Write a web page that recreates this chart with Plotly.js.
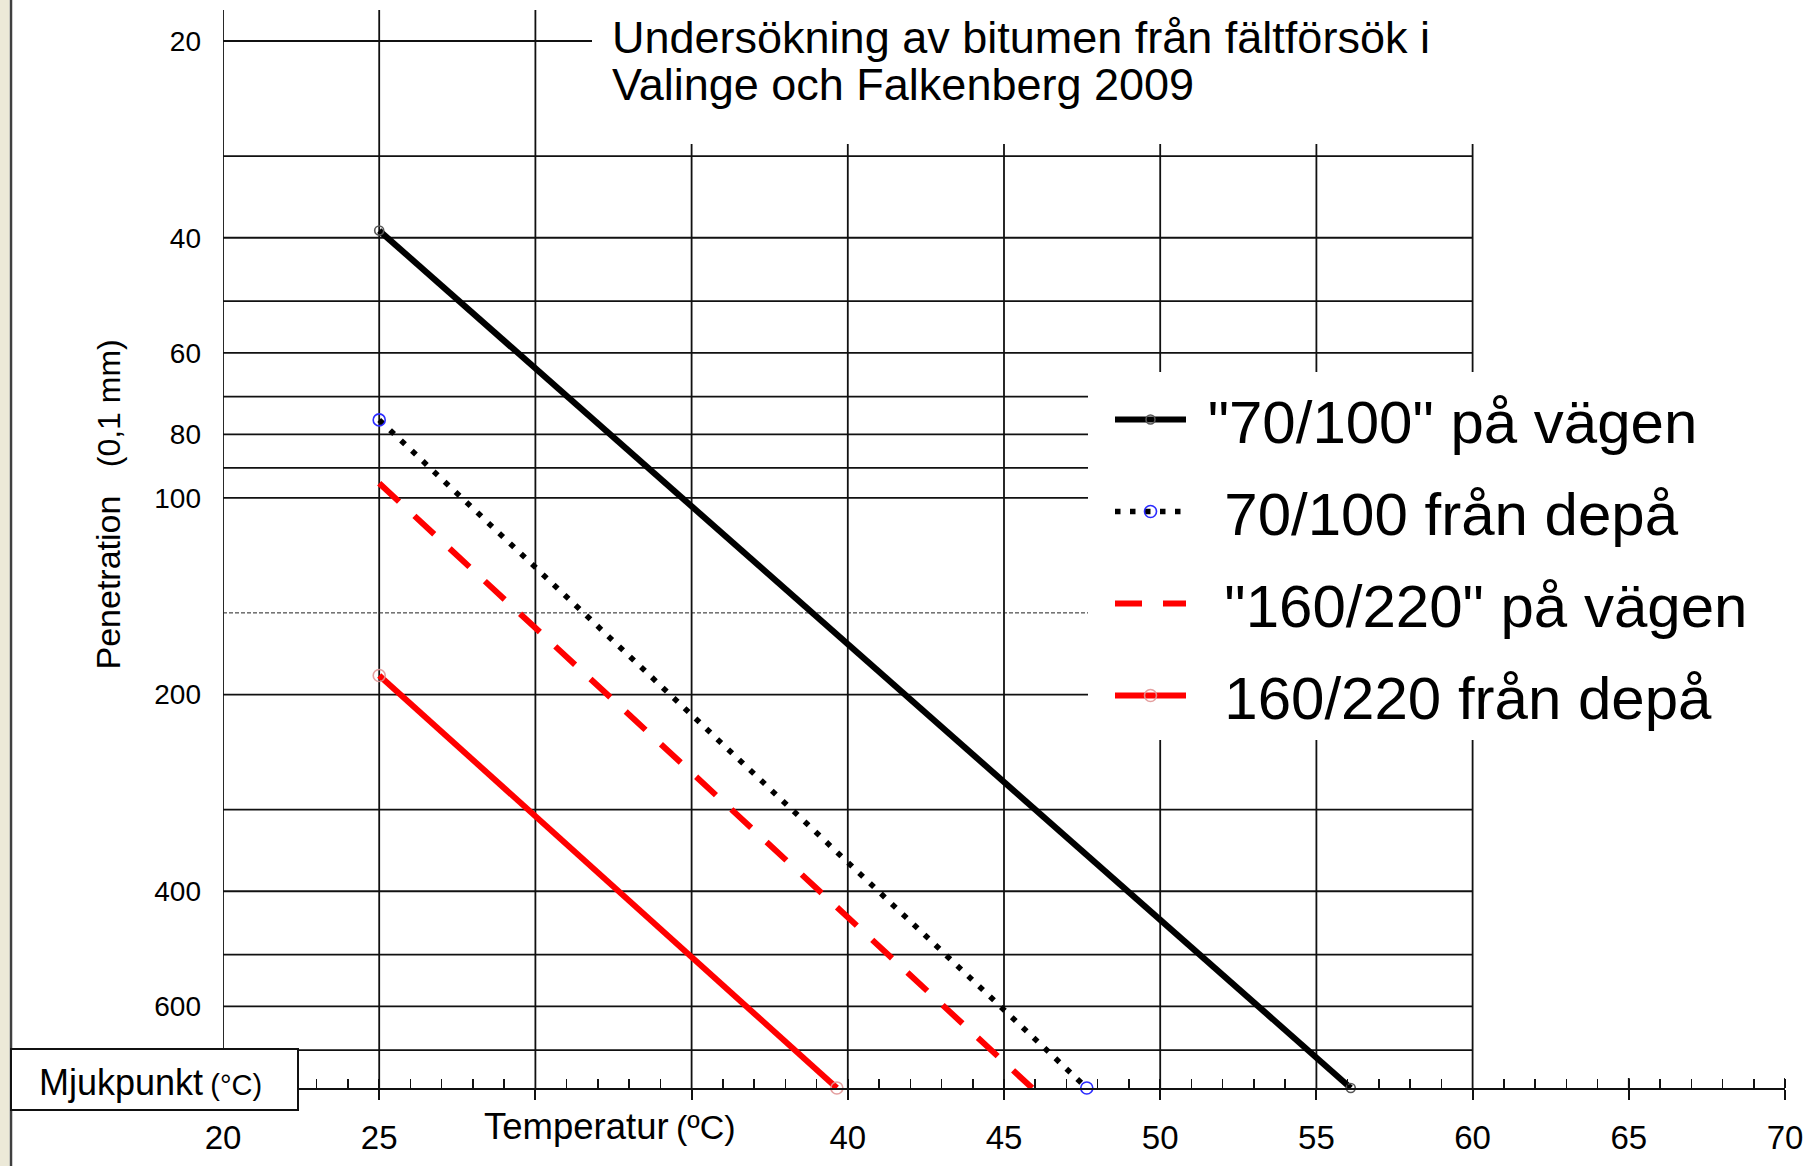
<!DOCTYPE html>
<html>
<head>
<meta charset="utf-8">
<script src="https://cdn.plot.ly/plotly-3.0.1.min.js"></script>
<style>
  html, body { margin: 0; padding: 0; background: #ffffff; }
  #chart { width: 1814px; height: 1166px; }
</style>
</head>
<body>
<div id="chart"></div>
<script>
// ---------------- data ----------------
const seriesNames = [
  '\u00a0"70/100" på vägen',
  '\u00a0\u00a070/100 från depå',
  '\u00a0\u00a0"160/220" på vägen',
  '\u00a0\u00a0160/220 från depå'
];
const testTemperature = [25, 25, 25, 25];          // °C
const penetrationAt25 = [39, 76, 95, 187];         // 0,1 mm
const softeningPoint  = [56.1, 47.65, 45.9, 39.65]; // °C (Mjukpunkt)
const penetrationAtSP = [800, 800, 800, 800];      // 0,1 mm
const yTickVals = [20, 40, 60, 80, 100, 200, 400, 600];
const xTickVals = [20, 25, 30, 35, 40, 45, 50, 55, 60, 65, 70];
const xTickText = ['20', '25', '', '', '40', '45', '50', '55', '60', '65', '70'];

// ---------------- layout geometry helpers ----------------
const FIG_W = 1814, FIG_H = 1166;
const M_L = 223, M_T = 10, PLOT_W = 1562, PLOT_H = 1078;
const M_R = FIG_W - M_L - PLOT_W, M_B = FIG_H - M_T - PLOT_H;
const px = v => (v - M_L) / PLOT_W;          // pixel x -> paper x
const py = v => (M_T + PLOT_H - v) / PLOT_H; // pixel y -> paper y
const FONT = '"Liberation Sans", Arial, sans-serif';

// ---------------- traces ----------------
const styles = [
  { mode: 'lines+markers', line: { color: '#000000', width: 6.2, dash: 'solid' },
    marker: { symbol: 'circle-open', size: 9, color: '#555555', line: { width: 1.6 } } },
  { mode: 'lines+markers', line: { color: '#000000', width: 5.5, dash: '5.5px,9.5px' },
    marker: { symbol: 'circle-open', size: 12, color: '#2a2aff', line: { width: 1.6 } } },
  { mode: 'lines', line: { color: '#ff0000', width: 6, dash: '27px,21px' } },
  { mode: 'lines+markers', line: { color: '#ff0000', width: 6, dash: 'solid' },
    marker: { symbol: 'circle-open', size: 12, color: 'rgba(225,150,150,0.9)', line: { width: 1.6 } } }
];

const traces = seriesNames.map((name, i) => Object.assign({
  type: 'scatter',
  name: name,
  x: [testTemperature[i], softeningPoint[i]],
  y: [penetrationAt25[i], penetrationAtSP[i]],
  legendgroup: 'g' + i,
  cliponaxis: false,
  hoverinfo: 'x+y+name'
}, styles[i]));

// ---------------- grid (chart furniture) ----------------
const GRID = '#111111';
const shapes = [];
function hline(pen, xFrom, xTo, extra) {
  shapes.push(Object.assign({ type: 'line', xref: 'x', yref: 'y', x0: xFrom, x1: xTo, y0: pen, y1: pen,
    line: { color: GRID, width: 1.8 }, layer: 'below' }, extra || {}));
}
function vline(t, yFrom, yTo) {
  shapes.push({ type: 'line', xref: 'x', yref: 'paper', x0: t, x1: t, y0: yFrom, y1: yTo,
    line: { color: GRID, width: 1.8 }, layer: 'below' });
}
const xLegendEdge = 20 + (1088 - M_L) / (PLOT_W / 50);
const xTitleEnd = 20 + (592 - M_L) / (PLOT_W / 50);
hline(20, 20, xTitleEnd);
[30, 40, 50, 60, 300, 400, 500, 600].forEach(p => hline(p, 20, 60));
[70, 80, 90, 100, 200].forEach(p => hline(p, 20, xLegendEdge));
hline(150, 20, xLegendEdge, { line: { color: '#222222', width: 1, dash: '4px,2px' } });
// 700 line extends across the label area to the frame
shapes.push({ type: 'line', xref: 'paper', yref: 'y', x0: px(11), x1: 0.8, y0: 700, y1: 700,
  line: { color: GRID, width: 1.8 }, layer: 'below' });

vline(20, py(1049), 1);
vline(25, 0, 1);
vline(30, 0, 1);
[35, 40, 45].forEach(t => vline(t, 0, py(144)));
[50, 55, 60].forEach(t => { vline(t, py(372), py(144)); vline(t, 0, py(740)); });
[65, 70].forEach(t => vline(t, 0, 10 / PLOT_H));

// left window frame
shapes.push({ type: 'rect', xref: 'paper', yref: 'paper', x0: px(0), x1: px(9.5), y0: py(FIG_H), y1: py(0),
  fillcolor: '#ece9d8', line: { width: 0 }, layer: 'above' });
shapes.push({ type: 'line', xref: 'paper', yref: 'paper', x0: px(11), x1: px(11), y0: py(FIG_H), y1: py(0),
  line: { color: '#404040', width: 2.5 }, layer: 'above' });
// Mjukpunkt box
shapes.push({ type: 'rect', xref: 'paper', yref: 'paper', x0: px(11), x1: px(298), y0: py(1110), y1: py(1049),
  fillcolor: '#ffffff', line: { color: '#111111', width: 2 }, layer: 'above' });

// ---------------- annotations ----------------
const annotations = [
  { text: 'Undersökning av bitumen från fältförsök i', x: px(610), y: py(10), xanchor: 'left', yanchor: 'top',
    font: { size: 45 } },
  { text: 'Valinge och Falkenberg 2009', x: px(610), y: py(57.5), xanchor: 'left', yanchor: 'top',
    font: { size: 45 } },
  { text: 'Mjukpunkt\u2009<span style="font-size:29px">(°C)</span>', x: px(37), y: py(1060), xanchor: 'left', yanchor: 'top',
    font: { size: 36 } },
  { text: 'Temperatur\u2009<span style="font-size:34px">(ºC)</span>', x: px(482), y: py(1104), xanchor: 'left', yanchor: 'top',
    font: { size: 36.5 } },
  { text: 'Penetration\u00a0\u00a0\u00a0<span style="font-size:32px">(0,1 mm)</span>', x: px(107.5), y: py(505),
    xanchor: 'center', yanchor: 'middle', textangle: -90, font: { size: 34 } }
].map(a => Object.assign({ xref: 'paper', yref: 'paper', showarrow: false }, a,
  { font: Object.assign({ family: FONT, color: '#000000' }, a.font) }));

// ---------------- layout ----------------
const layout = {
  width: FIG_W, height: FIG_H,
  margin: { l: M_L, r: M_R, t: M_T, b: M_B, pad: 0 },
  paper_bgcolor: '#ffffff',
  plot_bgcolor: 'rgba(0,0,0,0)',
  font: { family: FONT, color: '#000000' },
  showlegend: true,
  legend: {
    x: px(1110), y: py(374), xanchor: 'left', yanchor: 'top',
    bgcolor: 'rgba(0,0,0,0)', borderwidth: 0,
    font: { family: FONT, size: 60, color: '#000000' },
    itemwidth: 71, traceorder: 'grouped', tracegroupgap: 11
  },
  xaxis: {
    range: [20, 70], fixedrange: true,
    showgrid: false, zeroline: false,
    showline: true, linecolor: '#111111', linewidth: 2,
    tickmode: 'array', tickvals: xTickVals, ticktext: xTickText,
    ticks: 'outside', ticklen: 10, tickwidth: 2, tickcolor: '#111111',
    ticklabelstandoff: 9,
    tickfont: { family: FONT, size: 33, color: '#000000' },
    minor: { tickmode: 'linear', tick0: 20, dtick: 1, ticks: 'inside', ticklen: 9, tickwidth: 1.5,
      tickcolor: '#111111', showgrid: false }
  },
  yaxis: {
    type: 'log', autorange: false,
    range: [Math.log10(800), Math.log10(17.93)], fixedrange: true,
    showgrid: false, zeroline: false, showline: false,
    tickmode: 'array', tickvals: yTickVals, ticktext: yTickVals.map(String),
    ticks: '', ticklabelstandoff: 21,
    tickfont: { family: FONT, size: 28, color: '#000000' }
  },
  shapes: shapes,
  annotations: annotations
};

Plotly.newPlot('chart', traces, layout, { displayModeBar: false, staticPlot: true });
</script>
</body>
</html>
